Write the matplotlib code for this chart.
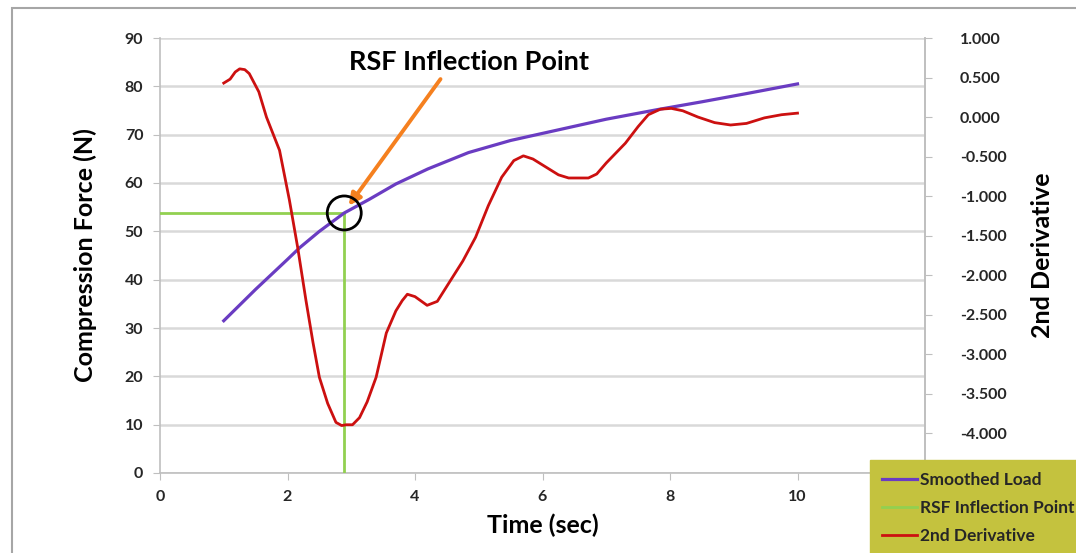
"""Compression force with its smoothed 2nd derivative and the RSF inflection point."""

import matplotlib

matplotlib.use("Agg")
import matplotlib.pyplot as plt
from matplotlib.patches import Circle, Rectangle

# Smoothed load curve (left axis, N)
load_time = [1.0, 1.5, 2.0, 2.19, 2.5, 2.89, 3.28, 3.7, 4.2, 4.84, 5.5, 6.25, 7.0, 7.81, 8.5, 9.2, 10.0]
load_force = [31.5, 38.0, 44.2, 46.6, 50.0, 53.8, 56.6, 59.8, 62.9, 66.3, 68.8, 71.0, 73.2, 75.2, 76.8, 78.5, 80.5]

# 2nd derivative of the load (right axis)
deriv_time = [1.0, 1.1, 1.18, 1.25, 1.33, 1.4, 1.55, 1.67, 1.875, 2.03, 2.16, 2.29, 2.4, 2.5, 2.63, 2.76, 2.85,
              2.92, 3.02, 3.13, 3.25, 3.39, 3.55, 3.7, 3.8, 3.88, 4.0, 4.19, 4.35, 4.53, 4.75,
              4.95, 5.15, 5.36, 5.55, 5.70, 5.85, 6.05, 6.25, 6.41, 6.72, 6.85, 7.0, 7.3, 7.5,
              7.66, 7.85, 8.02, 8.2, 8.44, 8.7, 8.95, 9.2, 9.48, 9.75, 10.0]
deriv_value = [0.43, 0.48, 0.57, 0.61, 0.6, 0.55, 0.32, 0.0, -0.42, -1.05, -1.65, -2.32, -2.85, -3.29, -3.62, -3.86, -3.9,
               -3.89, -3.89, -3.8, -3.6, -3.29, -2.73, -2.45, -2.32, -2.24, -2.27, -2.38, -2.33, -2.10, -1.82,
               -1.52, -1.12, -0.76, -0.55, -0.49, -0.53, -0.63, -0.73, -0.77, -0.77, -0.72, -0.58, -0.33, -0.12,
               0.03, 0.10, 0.11, 0.08, 0.0, -0.07, -0.10, -0.08, -0.01, 0.03, 0.05]

# Inflection point of the smoothed load
rsf_time = 2.89
rsf_force = 53.8

x_ticks = [0, 2, 4, 6, 8, 10]
left_ticks = list(range(0, 100, 10))
right_ticks = [1.0, 0.5, 0.0, -0.5, -1.0, -1.5, -2.0, -2.5, -3.0, -3.5, -4.0]

PURPLE = "#6a3cc2"
GREEN = "#92d050"
RED = "#cc1010"
ORANGE = "#f5801f"
GRID = "#d9d9d9"
SPINE = "#bfbfbf"
TEXT = "#262626"
FONT = ["Lato", "DejaVu Sans"]

plt.rcParams["font.family"] = FONT

fig = plt.figure(figsize=(10.76, 5.53), dpi=100)
ax = fig.add_axes([160 / 1076, 80 / 553, 765 / 1076, 435 / 553])

# chart-area border
fig.patches.append(Rectangle((12 / 1076, -0.2), 1.2, 1.2 - 8 / 553,
                             transform=fig.transFigure, fill=False,
                             edgecolor="#a6a6a6", linewidth=1.5, zorder=0))

ax.set_xlim(0, 12)
ax.set_ylim(0, 90)
ax.set_xticks(x_ticks)
ax.set_yticks(left_ticks)
ax.yaxis.grid(True, color=GRID, linewidth=1.8)
ax.set_axisbelow(True)

ax.spines["top"].set_visible(False)
for side in ("left", "bottom", "right"):
    ax.spines[side].set_color(SPINE)
    ax.spines[side].set_linewidth(1.2)

ax.tick_params(axis="both", direction="out", length=5, color=SPINE, labelsize=11.5,
               labelcolor=TEXT, pad=7)
for lbl in ax.get_xticklabels() + ax.get_yticklabels():
    lbl.set_fontweight("bold")

ax.set_xlabel("Time (sec)", fontsize=18, fontweight="bold", color="black", labelpad=7)
ax.set_ylabel("Compression Force (N)", fontsize=18, fontweight="bold", color="black", labelpad=20)

# RSF inflection guide lines
h_green, = ax.plot([0, rsf_time], [rsf_force, rsf_force], color=GREEN, linewidth=2, zorder=3)
ax.plot([rsf_time, rsf_time], [0, rsf_force], color=GREEN, linewidth=2, zorder=3)

l_load, = ax.plot(load_time, load_force, color=PURPLE, linewidth=2.3, zorder=4)

ax2 = ax.twinx()
ax2.set_ylim(-4.5, 1.0)
ax2.set_yticks(right_ticks)
ax2.set_yticklabels([f"{v:.3f}" for v in right_ticks])
for side in ("top", "left", "bottom"):
    ax2.spines[side].set_visible(False)
ax2.spines["right"].set_color(SPINE)
ax2.spines["right"].set_linewidth(1.2)
ax2.tick_params(axis="y", direction="out", length=5, color=SPINE, labelsize=11.5,
                labelcolor=TEXT, pad=20)
for lbl in ax2.get_yticklabels():
    lbl.set_fontweight("bold")
ax2.set_ylabel("2nd Derivative", fontsize=18, fontweight="bold", color="black",
               labelpad=18)

l_deriv, = ax2.plot(deriv_time, deriv_value, color=RED, linewidth=2, zorder=4)

# marker circle and arrow pointing at the inflection point
px = ax.transData.transform((rsf_time, rsf_force))
marker = Circle(px, radius=17, transform=None, fill=False, edgecolor="black",
                linewidth=2, zorder=6)
fig.patches.append(marker)

ax.annotate("", xy=(rsf_time + 0.07, rsf_force + 1.5), xytext=(4.4, 81.5),
            arrowprops=dict(arrowstyle="-|>,head_length=0.7,head_width=0.35",
                            color=ORANGE, linewidth=2.8, shrinkA=0, shrinkB=0),
            zorder=7)
ax.text(4.85, 85, "RSF Inflection Point", fontsize=19.5, fontweight="bold",
        color="black", ha="center", va="center", zorder=7)

leg = fig.legend([l_load, h_green, l_deriv],
                 ["Smoothed Load", "RSF Inflection Point", "2nd Derivative"],
                 loc="upper left", bbox_to_anchor=(870 / 1076, 1 - 460 / 553),
                 frameon=True, fancybox=False, facecolor="#c4c23e", edgecolor="#c4c23e",
                 framealpha=1, handlelength=2.0, handletextpad=0.2, labelspacing=0.68,
                 borderpad=0.7, prop={"family": FONT, "weight": "bold", "size": 12.5},
                 borderaxespad=0)
for t in leg.get_texts():
    t.set_color(TEXT)

fig.savefig("out.png", dpi=100)
